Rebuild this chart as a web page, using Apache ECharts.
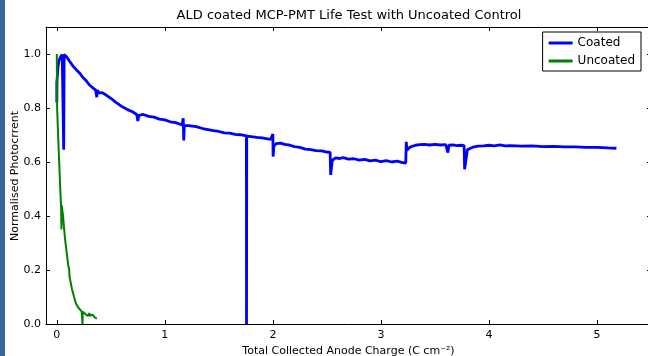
<!DOCTYPE html>
<html>
<head>
<meta charset="utf-8">
<script src="https://cdn.jsdelivr.net/npm/echarts@6/dist/echarts.min.js"></script>
<style>html,body{margin:0;padding:0;background:#fff}#c{width:648px;height:356px}</style>
</head>
<body>
<div id="c"></div>
<script>
var titleText = 'ALD coated MCP-PMT Life Test with Uncoated Control';
var xName = 'Total Collected Anode Charge (C cm\u207B\u00B2)';
var yName = 'Normalised Photocrrent';
var seriesNames = ['Coated', 'Uncoated'];
var xTicks = [0, 1, 2, 3, 4, 5];
var yTicks = [0, 0.2, 0.4, 0.6, 0.8, 1.0];

var coatedPoints = [
  [0, 0.9], [0, 0.82], [0.002, 0.9], [0.01, 0.95], [0.02, 0.975], [0.035, 0.99], [0.05, 0.998], [0.06, 1.0],
  [0.064, 0.645], [0.068, 0.998], [0.09, 0.99], [0.12, 0.972], [0.15, 0.955], [0.18, 0.942], [0.21, 0.93],
  [0.24, 0.914], [0.27, 0.902], [0.3, 0.886], [0.33, 0.876], [0.36, 0.866], [0.37, 0.84], [0.375, 0.866],
  [0.39, 0.856], [0.42, 0.857], [0.46, 0.847], [0.5, 0.836], [0.55, 0.82], [0.6, 0.806], [0.65, 0.795],
  [0.7, 0.786], [0.74, 0.776], [0.75, 0.752], [0.76, 0.773], [0.8, 0.776], [0.85, 0.769], [0.9, 0.766],
  [0.95, 0.759], [1.0, 0.756], [1.05, 0.749], [1.1, 0.746], [1.16, 0.737], [1.17, 0.762], [1.175, 0.68],
  [1.18, 0.736], [1.22, 0.735], [1.29, 0.731], [1.35, 0.724], [1.4, 0.72], [1.45, 0.716], [1.5, 0.713],
  [1.55, 0.708], [1.6, 0.707], [1.65, 0.702], [1.7, 0.701], [1.755, 0.697], [1.756, 0.0], [1.758, 0.696],
  [1.8, 0.694], [1.85, 0.691], [1.9, 0.689], [1.95, 0.686], [1.98, 0.684], [2.0, 0.704], [2.002, 0.62],
  [2.01, 0.66], [2.03, 0.668], [2.07, 0.67], [2.11, 0.665], [2.15, 0.663], [2.2, 0.657], [2.25, 0.654],
  [2.3, 0.648], [2.35, 0.646], [2.4, 0.642], [2.45, 0.641], [2.5, 0.637], [2.53, 0.636], [2.535, 0.552],
  [2.55, 0.606], [2.58, 0.615], [2.62, 0.613], [2.65, 0.616], [2.7, 0.611], [2.75, 0.612], [2.8, 0.607],
  [2.85, 0.61], [2.9, 0.604], [2.95, 0.607], [3.0, 0.601], [3.05, 0.605], [3.1, 0.6], [3.15, 0.603],
  [3.2, 0.598], [3.23, 0.596], [3.235, 0.675], [3.24, 0.644], [3.27, 0.655], [3.32, 0.662], [3.36, 0.664],
  [3.4, 0.665], [3.45, 0.663], [3.5, 0.665], [3.55, 0.663], [3.6, 0.664], [3.62, 0.635], [3.63, 0.662],
  [3.67, 0.663], [3.7, 0.661], [3.74, 0.662], [3.77, 0.661], [3.775, 0.573], [3.8, 0.645], [3.85, 0.655],
  [3.9, 0.659], [3.95, 0.66], [4.0, 0.662], [4.05, 0.66], [4.1, 0.663], [4.15, 0.66], [4.2, 0.661],
  [4.3, 0.659], [4.4, 0.66], [4.5, 0.657], [4.6, 0.658], [4.7, 0.656], [4.8, 0.656], [4.9, 0.654],
  [5.0, 0.654], [5.1, 0.652], [5.18, 0.651]
];

var uncoatedPoints = [
  [0, 1.0], [0.003, 0.8], [0.012, 0.7], [0.022, 0.6], [0.032, 0.5], [0.04, 0.43], [0.043, 0.35],
  [0.045, 0.44], [0.058, 0.4], [0.075, 0.32], [0.09, 0.27], [0.105, 0.22], [0.115, 0.2], [0.118, 0.175],
  [0.14, 0.13], [0.16, 0.1], [0.176, 0.077], [0.2, 0.06], [0.23, 0.047], [0.238, 0.0], [0.24, 0.045],
  [0.27, 0.035], [0.29, 0.03], [0.3, 0.04], [0.31, 0.03], [0.33, 0.035], [0.35, 0.025], [0.37, 0.02]
];

var FONT = 'DejaVu Sans';
var chart = echarts.init(document.getElementById('c'), null, {renderer: 'canvas'});
var tickCommon = {show: true, inside: true, length: 4, lineStyle: {color: '#000', width: 1}};
var lineCommon = {show: true, onZero: false, lineStyle: {color: '#000', width: 1}};
chart.setOption({
  animation: false,
  backgroundColor: '#fff',
  graphic: [
    {type: 'rect', shape: {x: 0, y: 0, width: 5, height: 356}, style: {fill: '#3a6699'}, z: 10},
    {type: 'text', x: 349, y: 16, style: {text: titleText, font: '13px "DejaVu Sans"', fill: '#000', textAlign: 'center', textVerticalAlign: 'middle'}},
    {type: 'text', x: 15, y: 176, rotation: Math.PI / 2, style: {text: yName, font: '11px "DejaVu Sans"', fill: '#000', textAlign: 'center', textVerticalAlign: 'middle'}}
  ],
  grid: {left: 46, right: -3, top: 27, bottom: 32, containLabel: false, outerBoundsMode: 'none'},
  legend: {
    orient: 'vertical', right: 7, top: 32, data: seriesNames,
    icon: 'rect', itemWidth: 24, itemHeight: 3, itemGap: 6,
    borderColor: '#000', borderWidth: 1, borderRadius: 0, padding: [5, 6, 4, 6],
    backgroundColor: '#fff',
    textStyle: {fontFamily: FONT, fontSize: 12, color: '#000'}
  },
  xAxis: [
    {type: 'value', min: -0.1, max: 5.5, position: 'bottom',
     name: xName, nameLocation: 'middle', nameGap: 18,
     nameTextStyle: {fontFamily: FONT, fontSize: 11, color: '#000'},
     axisLine: lineCommon, splitLine: {show: false},
     axisTick: Object.assign({customValues: xTicks}, tickCommon),
     axisLabel: {customValues: xTicks, fontFamily: FONT, fontSize: 11, color: '#000', margin: 6}},
    {type: 'value', min: -0.1, max: 5.5, position: 'top',
     axisLine: lineCommon, splitLine: {show: false},
     axisTick: Object.assign({customValues: xTicks}, tickCommon),
     axisLabel: {show: false}}
  ],
  yAxis: [
    {type: 'value', min: 0, max: 1.1, position: 'left',
     axisLine: lineCommon, splitLine: {show: false},
     axisTick: Object.assign({customValues: yTicks}, tickCommon),
     axisLabel: {customValues: yTicks, fontFamily: FONT, fontSize: 11, color: '#000', margin: 5,
       formatter: function (v) { return v.toFixed(1); }}},
    {type: 'value', min: 0, max: 1.1, position: 'right',
     axisLine: lineCommon, splitLine: {show: false},
     axisTick: Object.assign({customValues: yTicks}, tickCommon),
     axisLabel: {show: false}}
  ],
  series: [
    {name: seriesNames[0], type: 'line', data: coatedPoints, showSymbol: false, symbol: 'none',
     color: '#0000ff', lineStyle: {color: '#0000ff', width: 2.8}, z: 3},
    {name: seriesNames[1], type: 'line', data: uncoatedPoints, showSymbol: false, symbol: 'none',
     color: '#008000', lineStyle: {color: '#008000', width: 2}, z: 4}
  ]
});
</script>
</body>
</html>
